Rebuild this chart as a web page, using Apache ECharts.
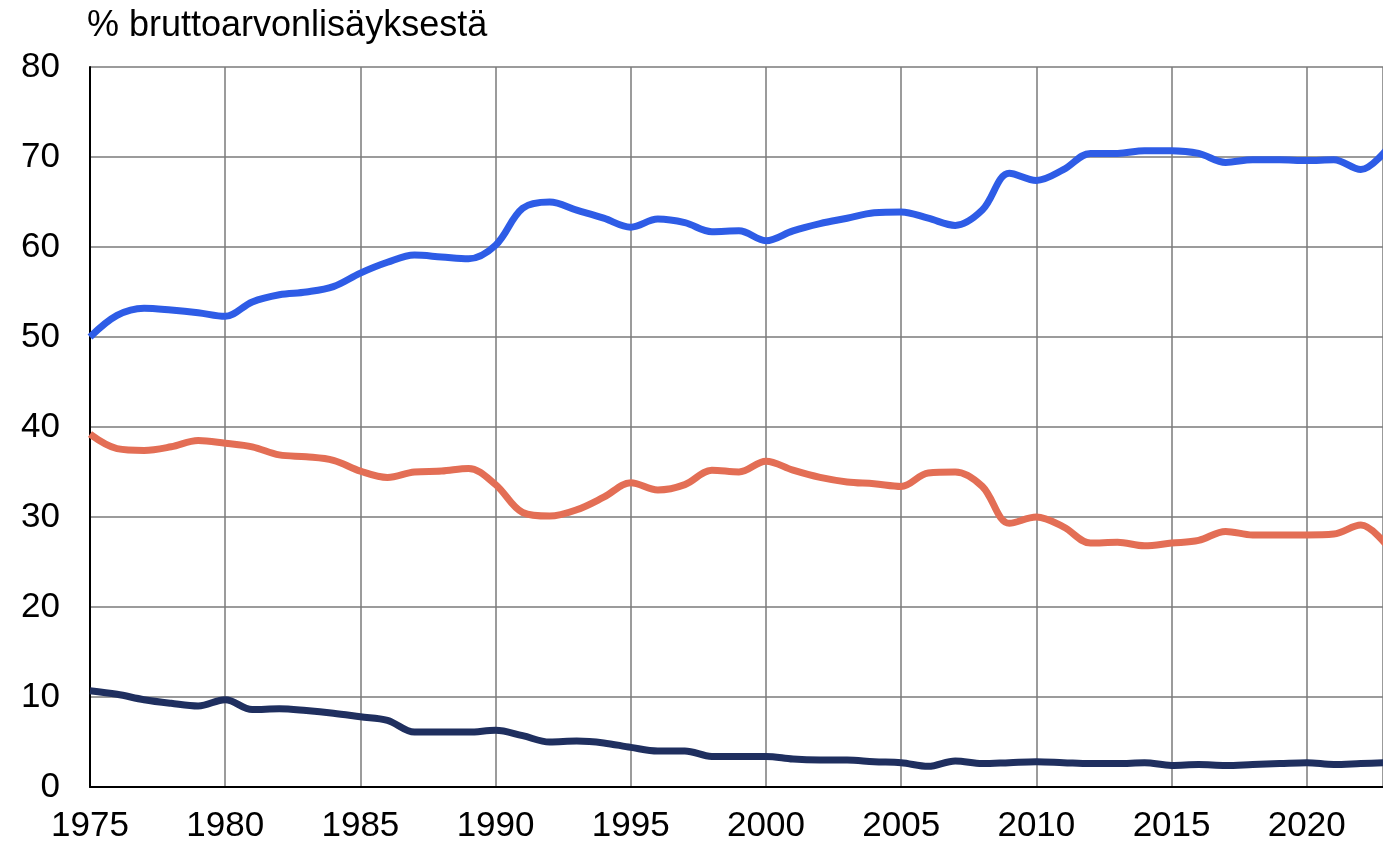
<!DOCTYPE html>
<html>
<head>
<meta charset="utf-8">
<script src="https://cdn.jsdelivr.net/npm/echarts@6/dist/echarts.min.js"></script>
<style>
  html, body { margin: 0; padding: 0; background: #fff; }
  #main { width: 1383px; height: 846px; }
</style>
</head>
<body>
<div id="main"></div>
<script>
// vuodet
const years = [1975,1976,1977,1978,1979,1980,1981,1982,1983,1984,1985,1986,1987,1988,1989,
  1990,1991,1992,1993,1994,1995,1996,1997,1998,1999,2000,2001,2002,2003,2004,2005,2006,
  2007,2008,2009,2010,2011,2012,2013,2014,2015,2016,2017,2018,2019,2020,2021,2022,2023];

// palvelut (sininen)
const services = [50.0,52.4,53.2,53.0,52.7,52.3,53.9,54.7,55.0,55.6,57.1,58.3,59.1,58.9,58.7,
  60.2,64.3,65.0,64.1,63.2,62.2,63.1,62.7,61.7,61.8,60.7,61.8,62.6,63.2,63.8,63.9,63.2,
  62.4,64.1,68.2,67.4,68.6,70.4,70.4,70.7,70.7,70.4,69.4,69.7,69.7,69.6,69.7,68.6,71.0];

// jalostus (oranssi)
const industry = [39.2,37.6,37.4,37.8,38.5,38.2,37.8,36.9,36.7,36.3,35.1,34.4,35.0,35.1,35.4,
  33.6,30.5,30.1,30.8,32.2,33.8,33.0,33.6,35.2,35.0,36.2,35.2,34.4,33.9,33.7,33.4,34.9,
  35.0,33.4,29.3,30.0,28.9,27.1,27.2,26.8,27.1,27.4,28.4,28.0,28.0,28.0,28.1,29.1,26.7];

// alkutuotanto (tummansininen)
const primary = [10.7,10.3,9.7,9.3,9.0,9.7,8.6,8.7,8.5,8.2,7.8,7.4,6.1,6.1,6.1,
  6.3,5.7,5.0,5.1,4.9,4.4,4.0,4.0,3.4,3.4,3.4,3.1,3.0,3.0,2.8,2.7,2.3,
  2.9,2.6,2.7,2.8,2.7,2.6,2.6,2.7,2.4,2.5,2.4,2.5,2.6,2.7,2.5,2.6,2.7];

const yTicks = [0, 10, 20, 30, 40, 50, 60, 70, 80];

const font = 'Liberation Sans, Arial, Helvetica, sans-serif';

function pairs(vals) {
  return years.map((y, i) => [y, vals[i]]);
}

function lineSeries(name, vals, color) {
  return {
    name: name,
    type: 'line',
    smooth: 0.35,
    symbol: 'none',
    clip: true,
    lineStyle: { color: color, width: 7 },
    itemStyle: { color: color },
    animation: false,
    data: pairs(vals)
  };
}

const chart = echarts.init(document.getElementById('main'), null, { renderer: 'canvas' });

const option = {
  backgroundColor: '#fff',
  title: {
    text: '% bruttoarvonlisäyksestä',
    left: 82,
    top: 3,
    textStyle: { fontFamily: font, fontSize: 36, fontWeight: 'normal', color: '#000' }
  },
  grid: { left: 90, right: 0, top: 67, bottom: 59, containLabel: false },
  xAxis: {
    type: 'value',
    min: 1975,
    // kuva leikkautuu juuri ennen vuotta 2023
    max: 2022.82,
    interval: 5,
    axisLine: { show: true, lineStyle: { color: '#000', width: 2 } },
    axisTick: { show: false },
    axisLabel: {
      fontFamily: font, fontSize: 35, color: '#000', margin: 22,
      showMaxLabel: false,
      formatter: v => (v % 5 === 0 ? String(v) : '')
    },
    splitLine: { show: true, lineStyle: { color: '#7a7a7a', width: 1.5 } }
  },
  yAxis: {
    type: 'value',
    min: yTicks[0],
    max: yTicks[yTicks.length - 1],
    interval: 10,
    axisLine: { show: true, lineStyle: { color: '#000', width: 2 } },
    axisTick: { show: false },
    axisLabel: { fontFamily: font, fontSize: 35, color: '#000', margin: 30 },
    splitLine: { show: true, lineStyle: { color: '#7a7a7a', width: 1.5 } }
  },
  series: [
    lineSeries('Alkutuotanto', primary, '#1f2f5f'),
    lineSeries('Jalostus', industry, '#e36e55'),
    lineSeries('Palvelut', services, '#2e5ce6')
  ]
};

chart.setOption(option);
</script>
</body>
</html>
